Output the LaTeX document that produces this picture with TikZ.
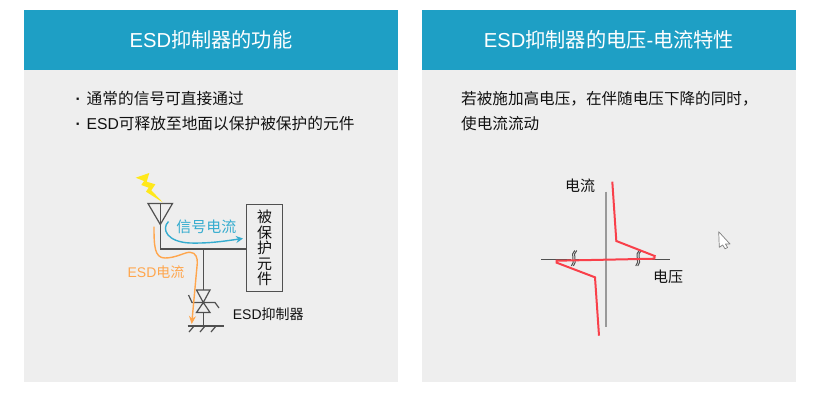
\documentclass[tikz,border=0pt]{standalone}
\usepackage{fontspec}
\usetikzlibrary{arrows.meta}
\setmainfont{Liberation Sans}
\newfontfamily\cjk{Noto Sans CJK SC}
\definecolor{hdr}{HTML}{1E9FC5}
\definecolor{panelbg}{HTML}{EEEEEE}
\definecolor{inktext}{HTML}{111111}
\definecolor{sigblue}{HTML}{35ACCF}
\definecolor{esdorange}{HTML}{FFA64D}
\definecolor{wiregray}{HTML}{505050}
\definecolor{axisgray}{HTML}{999999}
\definecolor{curvered}{HTML}{F9404A}
\definecolor{boltyellow}{HTML}{FFE81A}
\tikzset{
  panel/.style={fill=panelbg,draw=none},
  header/.style={fill=hdr,draw=none,text=white,inner sep=0pt,font=\fontsize{20.2}{24}\selectfont},
  bodytext/.style={anchor=west,inner sep=0pt,text=inktext,font=\fontsize{15.7}{19}\selectfont},
  labeltext/.style={inner sep=0pt,text=inktext,font=\fontsize{15}{18}\selectfont},
  wire/.style={draw=wiregray,line width=1.6pt},
  thinwire/.style={draw=wiregray,line width=1.2pt},
  redcurve/.style={draw=curvered,line width=2pt,line join=miter},
}
\begin{document}
\begin{tikzpicture}[x=1pt,y=-1pt]
\useasboundingbox (0,0) rectangle (821,408);
\fill[white] (0,0) rectangle (821,408);
% panels
\fill[panel] (24,70) rectangle (398,382);
\fill[panel] (422,70) rectangle (796,382);
\node[header,minimum width=374pt,minimum height=60pt] (h1) at (211,40) {ESD{\cjk 抑制器的功能}};
\node[header,minimum width=374pt,minimum height=60pt] (h2) at (609,40) {ESD{\cjk 抑制器的电压}-{\cjk 电流特性}};
% body text
\node[bodytext] (l1) at (75.5,99) {\makebox[11pt][l]{\textbf{·}}{\cjk 通常的信号可直接通过}};
\node[bodytext] (l2) at (75.5,124) {\makebox[11pt][l]{\textbf{·}}ESD{\cjk 可释放至地面以保护被保护的元件}};
\node[bodytext,font=\fontsize{15.6}{19}\selectfont] (r1) at (461,99) {\cjk 若被施加高电压，在伴随电压下降的同时，};
\node[bodytext,font=\fontsize{15.6}{19}\selectfont] (r2) at (461,124) {\cjk 使电流流动};
% left circuit
\fill[boltyellow] (135.7,177.7) -- (149.3,173) -- (146.7,181.7) -- (155.3,184.3) -- (151.3,190.3) -- (162.7,202.3) -- (146,191.7) -- (148.7,187.7) -- (141.3,185) -- (144,181) -- cycle;
\coordinate (antL) at (148,203.5);
\coordinate (antR) at (172.5,203.5);
\coordinate (antB) at (160.3,224.5);
\coordinate (junc) at (160.3,249);
\coordinate (tee) at (203.3,249);
\coordinate (gnd) at (203.3,326);
\node[draw=wiregray,line width=1.3pt,minimum width=36.5pt,minimum height=87pt,inner sep=0pt,text=inktext,align=center,font=\fontsize{15}{15.4}\selectfont\cjk] (box) at (264.5,248) {被\\保\\护\\元\\件};
\draw[thinwire] (antL) -- (antR) -- (antB) -- cycle;
\draw[wire] (160.3,203.5) -- (junc) -- (tee);
\draw[wire] (tee) -- (tee -| box.west);
\draw[wire] (tee) -- (gnd);
% TVS
\coordinate (tvsM) at (203.3,302.5);
\draw[thinwire,fill=panelbg] (196.5,290) -- (210,290) -- (tvsM) -- cycle;
\draw[thinwire,fill=panelbg] (196.5,312.5) -- (210,312.5) -- (tvsM) -- cycle;
\draw[thinwire] (188.5,295) -- (192,302.5) -- (215,302.5) -- (219,308);
% ground
\draw[thinwire] (187.5,326) -- (224,326);
\foreach \hx in {194,205,216}{\draw[thinwire] (\hx,326) -- (\hx-5,332);}
% currents
\draw[sigblue,line width=1.4pt,-{Stealth[length=7pt,width=7pt]}] (168.5,221.5) .. controls (161,229) and (167,242) .. (190,243) .. controls (210,243.5) and (225,241) .. (243,238.5);
\draw[esdorange,line width=1.4pt,-{Stealth[length=8pt,width=7pt]}] (154,226.7) .. controls (154,246) and (154.5,258) .. (165,258) .. controls (176,258) and (185,252) .. (190,252.3) .. controls (196,252.5) and (197.5,258) .. (197.3,263) -- (191.7,324);
\node[inner sep=0pt,text=sigblue,font=\fontsize{15}{18}\selectfont\cjk] (sigl) at (206.3,226.7) {信号电流};
\node[inner sep=0pt,text=esdorange,font=\fontsize{14}{18}\selectfont] (esdl) at (156,272.3) {ESD{\cjk 电流}};
\node[inner sep=0pt,text=inktext,font=\fontsize{14}{18}\selectfont] (supp) at (268.3,314) {ESD{\cjk 抑制器}};
% right chart
\coordinate (yT) at (605.7,191.7);
\coordinate (yB) at (605.7,327.3);
\coordinate (xL) at (541,259.3);
\coordinate (xR) at (670,259.3);
\draw[draw=axisgray,line width=2pt] (yT) -- (yB);
\draw[draw=wiregray,line width=1.1pt] (xL) -- (xR);
\foreach \bx in {573.3,637.7}{
  \fill[panelbg] (\bx-2,252) rectangle (\bx+2,266);
  \draw[wiregray,line width=1pt] (\bx+1.5,250.5) .. controls (\bx-4,254) and (\bx+3,262) .. (\bx-2,266);
  \draw[wiregray,line width=1pt] (\bx+3.5,250.5) .. controls (\bx-2,254) and (\bx+5,262) .. (\bx,266);
}
\draw[redcurve] (612.3,181.7) -- (616.3,241) -- (654.7,256) -- (654.3,258.7) -- (556.7,260.7) -- (556.7,262.7) -- (595,277.3) -- (599,335.7);
\node[labeltext,font=\fontsize{15}{18}\selectfont\cjk] (ilab) at (580,186) {电流};
\node[labeltext,font=\fontsize{15}{18}\selectfont\cjk] (vlab) at (668,277) {电压};
% cursor
\draw[draw=gray,fill=white,line width=0.7pt,line join=round] (718.7,231.7) -- (719.3,247.3) -- (722.7,245) -- (725,248.8) -- (727.6,247.5) -- (725.4,244) -- (730,244) -- cycle;
\end{tikzpicture}
\end{document}
